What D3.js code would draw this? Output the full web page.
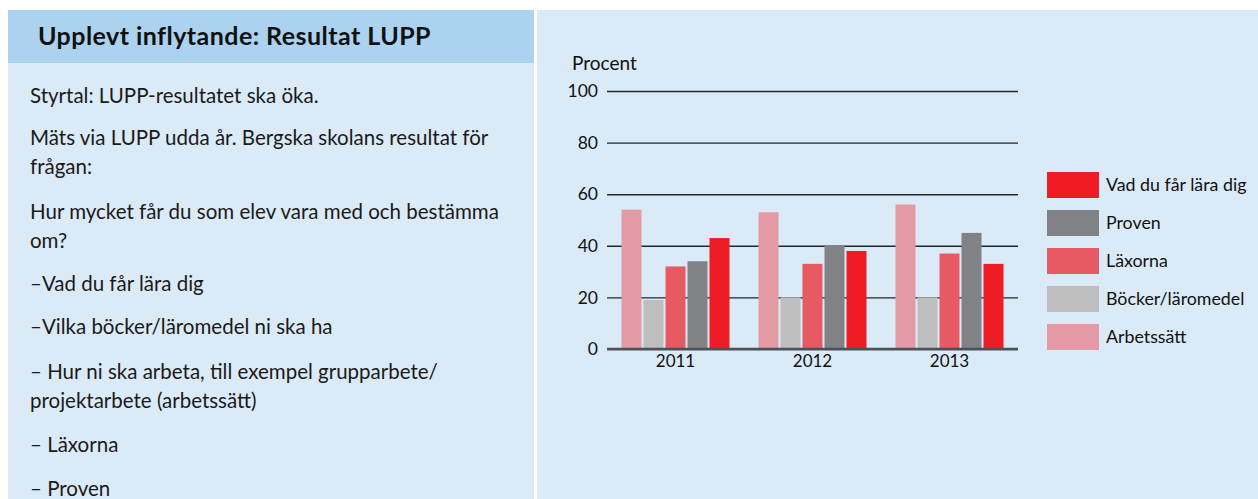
<!DOCTYPE html>
<html>
<head>
<meta charset="utf-8">
<script src="https://cdn.jsdelivr.net/npm/d3@7"></script>
<style>
  html, body { margin: 0; padding: 0; background: #ffffff; }
  svg { display: block; font-family: Lato, "Open Sans", sans-serif; }
</style>
</head>
<body>
<svg id="chart" width="1258" height="499"></svg>
<script>
// Survey years on the x axis
const years = ["2011", "2012", "2013"];

// Series, in drawing order within each year group
const seriesNames = ["Arbetssätt", "Böcker/läromedel", "Läxorna", "Proven", "Vad du får lära dig"];
const seriesColors = ["#e49aa4", "#bebebf", "#e85a63", "#818286", "#ee1d25"];

// Percent values per series, one per year
const arbetssatt = [54, 53, 56];
const bocker = [19, 20, 20];
const laxorna = [32, 33, 37];
const proven = [34, 40, 45];
const vadLara = [43, 38, 33];

const yTicks = [0, 20, 40, 60, 80, 100];

// Left info panel text
const titleText = "Upplevt inflytande: Resultat LUPP";
const bodyLines = [
  { t: "Styrtal: LUPP-resultatet ska öka.", y: 103 },
  { t: "Mäts via LUPP udda år. Bergska skolans resultat för", y: 145 },
  { t: "frågan:", y: 174 },
  { t: "Hur mycket får du som elev vara med och bestämma", y: 219 },
  { t: "om?", y: 248 },
  { t: "–Vad du får lära dig", y: 291 },
  { t: "–Vilka böcker/läromedel ni ska ha", y: 334 },
  { t: "– Hur ni ska arbeta, till exempel grupparbete/", y: 379 },
  { t: "projektarbete (arbetssätt)", y: 408 },
  { t: "– Läxorna", y: 452 },
  { t: "– Proven", y: 496 }
];

const values = [arbetssatt, bocker, laxorna, proven, vadLara];
const data = years.map((yr, i) => ({
  year: yr,
  bars: seriesNames.map((s, j) => ({ series: s, value: values[j][i], color: seriesColors[j] }))
}));

const svg = d3.select("#chart");

// Panels
svg.append("rect").attr("x", 8).attr("y", 10).attr("width", 526).attr("height", 489).attr("fill", "#dbeaf7");
svg.append("rect").attr("x", 8).attr("y", 10).attr("width", 526).attr("height", 53).attr("fill", "#abd2ef");
svg.append("rect").attr("x", 537).attr("y", 10).attr("width", 721).attr("height", 489).attr("fill", "#dbeaf7");

svg.append("text")
  .attr("x", 38).attr("y", 45)
  .attr("font-size", 25).attr("font-weight", 700).attr("fill", "#111")
  .attr("letter-spacing", 0.45)
  .text(titleText);

svg.append("g").selectAll("text").data(bodyLines).join("text")
  .attr("x", 30).attr("y", d => d.y)
  .attr("font-size", 20.5).attr("fill", "#1a1a1a")
  .text(d => d.t);

// Chart scales
const plotLeft = 607, plotRight = 1018, plotTop = 91, plotBottom = 349;

const x0 = d3.scaleBand().domain(years).range([plotLeft, plotRight]).paddingInner(0).paddingOuter(0);
const x1 = d3.scaleBand().domain(seriesNames).range([14.5, x0.bandwidth() - 14.5]).paddingInner(0.09).paddingOuter(0);
const y = d3.scaleLinear().domain([0, 100]).range([plotBottom, plotTop]);

// Gridlines (behind the bars)
const yAxis = d3.axisLeft(y).tickValues(yTicks).tickSize(-(plotRight - plotLeft)).tickPadding(9).tickFormat(d3.format("d"));
const gy = svg.append("g").attr("transform", `translate(${plotLeft},0)`).call(yAxis);
gy.select(".domain").remove();
gy.selectAll(".tick line").attr("stroke", "#23272b").attr("stroke-width", 1.4);
gy.selectAll(".tick text").attr("font-size", 17.5).attr("fill", "#111").attr("font-family", "Lato, sans-serif");

// Bars
const groups = svg.append("g").selectAll("g").data(data).join("g")
  .attr("transform", d => `translate(${x0(d.year)},0)`);
groups.selectAll("rect").data(d => d.bars).join("rect")
  .attr("x", d => x1(d.series))
  .attr("width", x1.bandwidth())
  .attr("y", d => y(d.value))
  .attr("height", d => y(0) - y(d.value))
  .attr("fill", d => d.color);

// Baseline
svg.append("line")
  .attr("x1", plotLeft).attr("x2", plotRight)
  .attr("y1", y(0)).attr("y2", y(0))
  .attr("stroke", "#4a5157").attr("stroke-width", 2.5);

// Year labels
const xAxis = d3.axisBottom(x0).tickSize(0).tickPadding(6);
const gx = svg.append("g").attr("transform", `translate(0,${plotBottom})`).call(xAxis);
gx.select(".domain").remove();
gx.selectAll(".tick text").attr("font-size", 17).attr("fill", "#111").attr("font-family", "Lato, sans-serif");

// Axis title
svg.append("text").attr("x", 572).attr("y", 70).attr("font-size", 19).attr("fill", "#111").text("Procent");

// Legend (reverse order of drawing)
const legendItems = seriesNames.map((s, i) => ({ name: s, color: seriesColors[i] })).reverse();
const leg = svg.append("g").attr("transform", "translate(1047,172)");
const li = leg.selectAll("g").data(legendItems).join("g")
  .attr("transform", (d, i) => `translate(0,${i * 38})`);
li.append("rect").attr("width", 52).attr("height", 26).attr("fill", d => d.color);
li.append("text").attr("x", 59).attr("y", 13).attr("dy", "0.35em")
  .attr("font-size", 17.8).attr("fill", "#111").text(d => d.name);
</script>
</body>
</html>
